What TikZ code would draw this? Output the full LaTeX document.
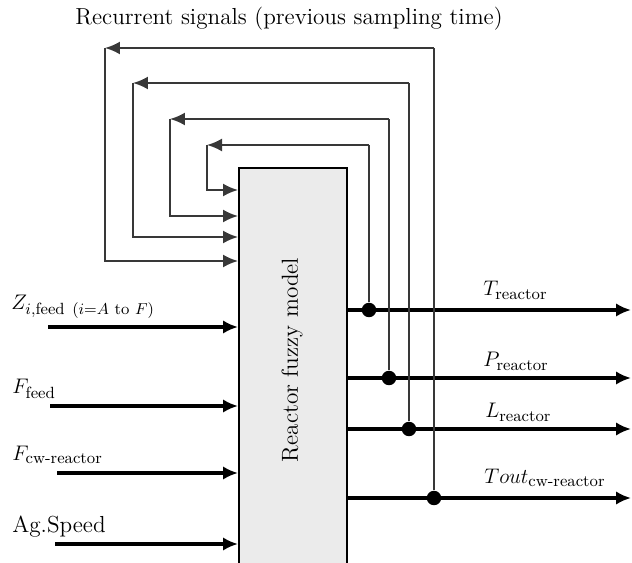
\documentclass[tikz,border=0pt]{standalone}
\usepackage{amsmath}
\usetikzlibrary{arrows.meta, positioning}
\definecolor{blockgray}{rgb}{0.92, 0.92, 0.92}
\definecolor{loopgray}{rgb}{0.22, 0.22, 0.22}

\begin{document}
\begin{tikzpicture}[x=0.02cm, y=-0.02cm, font=\fontsize{13.2}{16}\selectfont,
    sig/.style={line width=2pt, -{Latex[length=3mm, width=2.7mm]}},
    fb/.style={line width=1.1pt, loopgray},
    fbarrow/.style={fb, -{Latex[length=3mm, width=2.6mm]}},
    junction/.style={circle, fill=black, inner sep=0pt, minimum size=2.9mm},
    lab/.style={anchor=base west, inner sep=0pt}]
    \useasboundingbox (0,0) rectangle (632,563);

    % Model block
    \node (model) [draw, fill=blockgray, line width=0.9pt, anchor=north west,
        minimum width=2.16cm, minimum height=8cm] at (238,167) {};
    \node (modeltext) [rotate=90] at (292,360) {Reactor fuzzy model};
    \node (title) [anchor=base] at (289,25) {Recurrent signals (previous sampling time)};

    % Inputs
    \coordinate (zin) at (48,327);
    \coordinate (ffin) at (50,406);
    \coordinate (fcwin) at (57,473);
    \coordinate (agin) at (55,544);
    \node (zlab) [lab] at (11,310) {$Z_{i,\text{feed}\ (i=A\text{ to }F)}$};
    \node (fflab) [lab] at (12,394) {$F_{\text{feed}}$};
    \node (fcwlab) [lab] at (12,460) {$F_{\text{cw-reactor}}$};
    \node (aglab) [lab] at (12,532) {Ag.Speed};
    \draw[sig] (zin) -- (zin -| model.west);
    \draw[sig] (ffin) -- (ffin -| model.west);
    \draw[sig] (fcwin) -- (fcwin -| model.west);
    \draw[sig] (agin) -- (agin -| model.west);

    % Outputs
    \coordinate (tout) at (631,310);
    \coordinate (pout) at (631,378);
    \coordinate (lout) at (631,429);
    \coordinate (twout) at (631,498);
    \node (tlab) [lab] at (483,296) {$T_{\text{reactor}}$};
    \node (plab) [lab] at (483,367) {$P_{\text{reactor}}$};
    \node (llab) [lab] at (485,418) {$L_{\text{reactor}}$};
    \node (twlab) [lab] at (484,483) {$Tout_{\text{cw-reactor}}$};
    \draw[sig] (model.east |- tout) -- (tout);
    \draw[sig] (model.east |- pout) -- (pout);
    \draw[sig] (model.east |- lout) -- (lout);
    \draw[sig] (model.east |- twout) -- (twout);

    % Junctions
    \node (tdot) [junction] at (369,310) {};
    \node (pdot) [junction] at (389,378) {};
    \node (ldot) [junction] at (409,429) {};
    \node (twdot) [junction] at (434,498) {};

    % Recurrent loops
    \coordinate (tup) at (369,145);
    \coordinate (tleft) at (207,145);
    \coordinate (tin) at (model.west |- 0,190);
    \coordinate (pup) at (389,119);
    \coordinate (pleft) at (170,119);
    \coordinate (pin) at (model.west |- 0,216);
    \coordinate (lup) at (409,83);
    \coordinate (lleft) at (133,83);
    \coordinate (lin) at (model.west |- 0,237);
    \coordinate (twup) at (434,48);
    \coordinate (twleft) at (105,48);
    \coordinate (twin) at (model.west |- 0,261);

    \draw[fb] (tdot) -- (tup);
    \draw[fbarrow] (tup) -- (tleft);
    \draw[fbarrow] (tleft) |- (tin);
    \draw[fb] (pdot) -- (pup);
    \draw[fbarrow] (pup) -- (pleft);
    \draw[fbarrow] (pleft) |- (pin);
    \draw[fb] (ldot) -- (lup);
    \draw[fbarrow] (lup) -- (lleft);
    \draw[fbarrow] (lleft) |- (lin);
    \draw[fb] (twdot) -- (twup);
    \draw[fbarrow] (twup) -- (twleft);
    \draw[fbarrow] (twleft) |- (twin);
\end{tikzpicture}
\end{document}
